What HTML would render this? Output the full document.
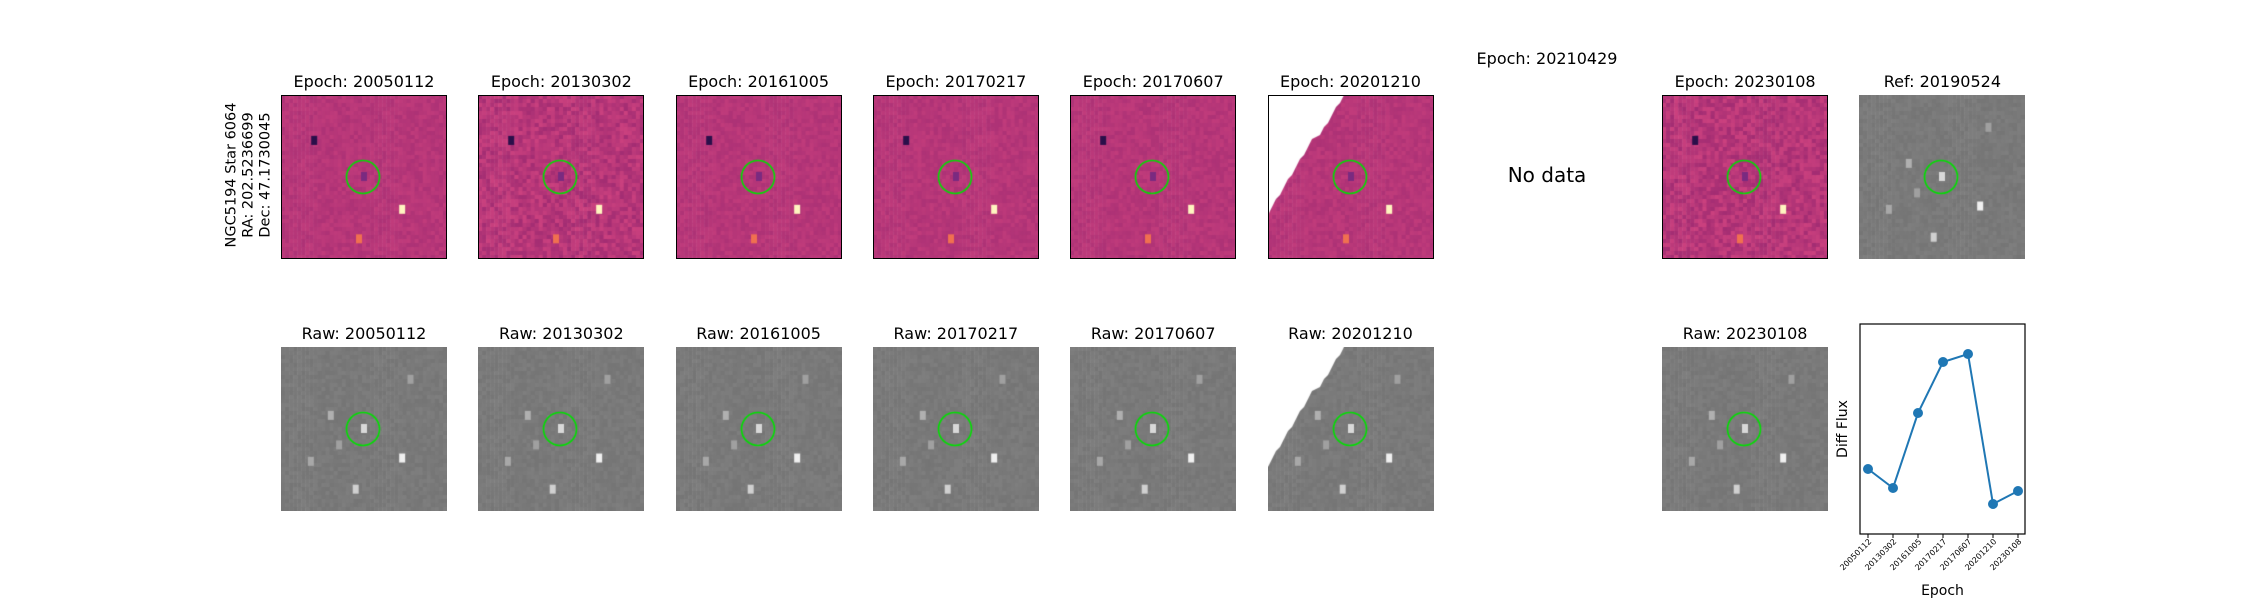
<!DOCTYPE html>
<html><head><meta charset="utf-8">
<style>
body{margin:0;background:#fff;width:2250px;height:600px;overflow:hidden;position:relative;font-family:"DejaVu Sans","Liberation Sans",sans-serif;}
.t{position:absolute;font-size:16px;color:#000;text-align:center;width:260px;white-space:nowrap;}
canvas{position:absolute;}
.frame{position:absolute;border:1.4px solid #000;box-sizing:border-box;}
svg text{font-family:"DejaVu Sans","Liberation Sans",sans-serif;}
</style></head><body>
<div id="root"></div>
<div style="position:absolute;left:249px;top:175px;transform:translate(-50%,-50%) rotate(-90deg);font-size:14.5px;line-height:17px;text-align:center;white-space:nowrap;">NGC5194 Star 6064<br>RA: 202.5236699<br>Dec: 47.1730045</div>
<div class="t" style="left:1417px;top:49px;">Epoch: 20210429</div>
<div style="position:absolute;left:1447px;top:163px;width:200px;text-align:center;font-size:20px;">No data</div>
<svg id="chart" width="2250" height="600" style="position:absolute;left:0;top:0;pointer-events:none"></svg>
<script>
const epochs=["20050112","20130302","20161005","20170217","20170607","20201210","20210429","20230108"];
const fluxEpochs=["20050112","20130302","20161005","20170217","20170607","20201210","20230108"];
const fluxValues=[65,46,121,172,180,30,43];
const root=document.getElementById('root');
const W=166,H=164,X0=281,DX=197.3,Y1=95,Y2=347;
function hash(a,b,c){let h=(a*374761393+b*668265263+c*2147483647)|0;h=(h^(h>>>13))*1274126177|0;return ((h^(h>>>16))>>>0)/4294967296;}
function panel(x,y,kind,idx,title,name){
  const tt=document.createElement('div');tt.className='t';tt.textContent=title;
  tt.style.left=(x+W/2-130)+'px';tt.style.top=(y-23)+'px';
  
  
  root.appendChild(tt);
  const c=document.createElement('canvas');c.width=W;c.height=H;c.style.left=x+'px';c.style.top=y+'px';
  
  
  root.appendChild(c);
  const g=c.getContext('2d');const N=41,cw=W/N,ch=H/N;
  for(let i=0;i<N;i++)for(let j=0;j<N;j++){
    const r=hash(i,j,idx*7+(kind=='diff'?1:3));
    if(kind=='diff'){const v=(r-0.5)*(idx==1||idx==7?40:20);g.fillStyle=`rgb(${183+v|0},${55+v*0.5|0},${121+v*0.3|0})`;}
    else{const v=122+(r-0.5)*10;g.fillStyle=`rgb(${v|0},${v|0},${v|0})`;}
    g.fillRect(i*cw,j*ch,cw+0.5,ch+0.5);
  }
  const stars=kind=='diff'?[[0.2,0.28,'#2a0f4a'],[0.73,0.7,'#fff5c0'],[0.47,0.88,'#f07050'],[0.5,0.5,'#7a2a80']]:
    [[0.5,0.5,'#d8d8d8'],[0.73,0.68,'#f0f0f0'],[0.45,0.87,'#d0d0d0'],[0.3,0.42,'#b0b0b0'],[0.18,0.7,'#a8a8a8'],[0.35,0.6,'#a0a0a0'],[0.78,0.2,'#a0a0a0']];
  if(kind!='diff'||idx!=6)stars.forEach(s=>{g.fillStyle=s[2];g.fillRect(s[0]*W-3,s[1]*H-5,6,9);});
  if(idx==5){g.fillStyle='#fff';g.beginPath();g.moveTo(0,0);
    for(let k=0;k<=18;k++){const px=75*(1-k/18),py=118*k/18;g.lineTo(Math.round(px/4)*4,Math.round(py/4)*4);}
    g.lineTo(0,118);g.closePath();g.fill();}
  g.strokeStyle='#00e000';g.lineWidth=1.6;g.beginPath();g.arc(W/2-1,H/2,16.5,0,7);g.stroke();
  if(kind=='diff'){const f=document.createElement('div');f.className='frame';f.style.left=x+'px';f.style.top=y+'px';f.style.width=W+'px';f.style.height=H+'px';
    
    
    root.appendChild(f);}
}
epochs.forEach((e,i)=>{
  if(e==="20210429")return;
  panel(X0+DX*i,Y1,'diff',i,'Epoch: '+e,'diff-'+e);
  panel(X0+DX*i,Y2,'raw',i,'Raw: '+e,'raw-'+e);
});
panel(X0+DX*8,Y1,'ref',8,'Ref: 20190524','ref-20190524');
const svg=document.getElementById('chart');const NS='http://www.w3.org/2000/svg';
const L=1860,R=2025,T=324,B=534;
const xs=i=>1868+i*(2018-1868)/(fluxEpochs.length-1);
const ys=v=>B-v*(B-T)/210;
function el(t,a,txt){const e=document.createElementNS(NS,t);for(const k in a)e.setAttribute(k,a[k]);if(txt)e.textContent=txt;svg.appendChild(e);return e;}
const fr=el('rect',{x:L,y:T,width:R-L,height:B-T,fill:'none',stroke:'#000','stroke-width':1.2});


const pl=el('polyline',{points:fluxValues.map((v,i)=>xs(i)+','+ys(v)).join(' '),fill:'none',stroke:'#1f77b4','stroke-width':2});


fluxValues.forEach((v,i)=>{
  const c=el('circle',{cx:xs(i),cy:ys(v),r:5,fill:'#1f77b4'});
  
  
  const tk=el('line',{x1:xs(i),x2:xs(i),y1:B,y2:B+4,stroke:'#000','stroke-width':1});
  
  
  const lb=el('text',{x:xs(i)+4,y:B+8,'font-size':8,'text-anchor':'end',transform:`rotate(-45 ${xs(i)+4} ${B+8})`,fill:'#000'},fluxEpochs[i]);
  
  
});
const xl=el('text',{x:(L+R)/2,y:595,'font-size':14,'text-anchor':'middle'},'Epoch');


const yl=el('text',{x:1847,y:(T+B)/2,'font-size':14,'text-anchor':'middle',transform:`rotate(-90 1847 ${(T+B)/2})`},'Diff Flux');


</script>
</body></html>
